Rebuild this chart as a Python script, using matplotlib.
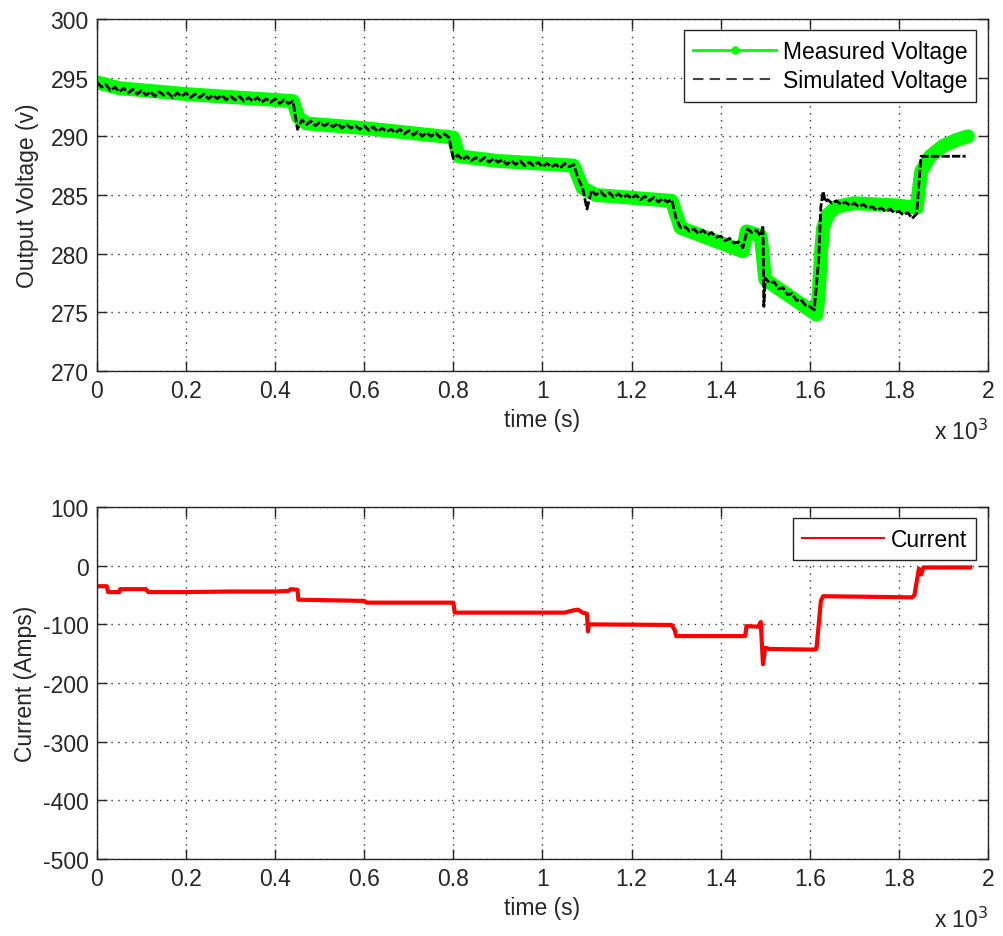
import numpy as np
import matplotlib
matplotlib.use("Agg")
import matplotlib.pyplot as plt
from matplotlib.lines import Line2D

plt.rcParams['font.family'] = ['Liberation Sans', 'DejaVu Sans']
plt.rcParams['font.size'] = 16.5
plt.rcParams['axes.unicode_minus'] = False

# time in units of 10^3 s
meas_t = [0.00, 0.05, 0.20, 0.44, 0.452, 0.47, 0.60, 0.80, 0.812, 0.90, 1.07,
          1.09, 1.12, 1.29, 1.31, 1.45, 1.458, 1.49, 1.50, 1.615, 1.62, 1.625,
          1.63, 1.64, 1.66, 1.70, 1.80, 1.84, 1.845, 1.85, 1.87, 1.90, 1.93, 1.955]
meas_v = [294.6, 294.1, 293.6, 293.0, 291.6, 291.1, 290.7, 289.9, 288.3, 287.9, 287.5,
          285.6, 285.0, 284.5, 282.2, 280.2, 281.9, 281.5, 277.8, 274.8, 276.5, 280.0,
          282.2, 283.3, 284.0, 284.3, 284.1, 283.9, 285.5, 287.0, 288.3, 289.2, 289.7, 290.0]

sim_t = [0.00, 0.01, 0.02, 0.03, 0.04, 0.05, 0.06, 0.07, 0.08, 0.09,
         0.10, 0.11, 0.12, 0.13, 0.14, 0.15, 0.16, 0.17, 0.18, 0.19,
         0.20, 0.21, 0.22, 0.23, 0.24, 0.25, 0.26, 0.27, 0.28, 0.29,
         0.30, 0.31, 0.32, 0.33, 0.34, 0.35, 0.36, 0.37, 0.38, 0.39,
         0.40, 0.41, 0.42, 0.43, 0.44, 0.45, 0.46, 0.47, 0.48, 0.49,
         0.50, 0.51, 0.52, 0.53, 0.54, 0.55, 0.56, 0.57, 0.58, 0.59,
         0.60, 0.61, 0.62, 0.63, 0.64, 0.65, 0.66, 0.67, 0.68, 0.69,
         0.70, 0.71, 0.72, 0.73, 0.74, 0.75, 0.76, 0.77, 0.78, 0.79,
         0.80, 0.81, 0.82, 0.83, 0.84, 0.85, 0.86, 0.87, 0.88, 0.89,
         0.90, 0.91, 0.92, 0.93, 0.94, 0.95, 0.96, 0.97, 0.98, 0.99,
         1.00, 1.01, 1.02, 1.03, 1.04, 1.05, 1.06, 1.07, 1.08, 1.09,
         1.10, 1.11, 1.12, 1.13, 1.14, 1.15, 1.16, 1.17, 1.18, 1.19,
         1.20, 1.21, 1.22, 1.23, 1.24, 1.25, 1.26, 1.27, 1.28, 1.29,
         1.30, 1.31, 1.32, 1.33, 1.34, 1.35, 1.36, 1.37, 1.38, 1.39,
         1.40, 1.41, 1.42, 1.43, 1.44, 1.45, 1.46, 1.47, 1.48, 1.49,
         1.495, 1.497, 1.50, 1.51, 1.52, 1.53, 1.54, 1.55, 1.56, 1.57,
         1.58, 1.59, 1.60, 1.61, 1.62, 1.625, 1.63, 1.635, 1.64, 1.65,
         1.66, 1.67, 1.68, 1.69, 1.70, 1.71, 1.72, 1.73, 1.74, 1.75,
         1.76, 1.77, 1.78, 1.79, 1.80, 1.81, 1.82, 1.83, 1.84, 1.845,
         1.85, 1.95]
sim_v = [294.6, 294.2, 294.4, 293.9, 294.2, 293.8, 294.1, 293.7, 294.0, 293.6,
         293.9, 293.5, 293.8, 293.4, 293.8, 293.5, 293.7, 293.3, 293.7, 293.4,
         293.7, 293.3, 293.6, 293.3, 293.6, 293.2, 293.5, 293.2, 293.5, 293.1,
         293.4, 293.1, 293.4, 293.0, 293.3, 293.0, 293.3, 292.9, 293.2, 292.9,
         293.2, 292.8, 293.1, 292.8, 293.0, 290.6, 291.4, 291.0, 291.3, 290.9,
         291.2, 290.9, 291.1, 290.8, 291.1, 290.7, 291.0, 290.7, 290.9, 290.6,
         290.9, 290.5, 290.8, 290.4, 290.7, 290.4, 290.6, 290.3, 290.6, 290.2,
         290.5, 290.1, 290.4, 290.0, 290.3, 290.0, 290.3, 289.9, 290.2, 289.9,
         288.1, 288.4, 288.0, 288.3, 287.9, 288.2, 287.9, 288.2, 287.8, 288.1,
         287.8, 288.0, 287.6, 287.9, 287.6, 287.9, 287.5, 287.8, 287.5, 287.8,
         287.4, 287.7, 287.4, 287.6, 287.3, 287.7, 287.4, 287.6, 286.4, 285.6,
         283.8, 285.4, 285.0, 285.3, 284.9, 285.2, 284.8, 285.1, 284.8, 285.0,
         284.7, 285.0, 284.6, 284.9, 284.5, 284.8, 284.4, 284.7, 284.4, 284.6,
         283.0, 282.2, 282.3, 281.9, 282.1, 281.7, 282.0, 281.6, 281.8, 281.4,
         281.5, 281.1, 281.3, 280.9, 281.0, 280.5, 282.1, 281.8, 282.0, 281.5,
         282.4, 275.5, 277.9, 277.5, 277.6, 277.0, 277.1, 276.5, 276.6, 276.0,
         276.1, 275.6, 275.5, 275.2, 279.5, 284.0, 285.3, 284.4, 284.6, 284.3,
         284.5, 284.2, 284.4, 284.1, 284.3, 284.0, 284.2, 283.9, 284.0, 283.7,
         283.9, 283.6, 283.8, 283.5, 283.6, 283.3, 283.5, 283.0, 283.4, 286.0,
         288.3, 288.3]

cur_t = [0.00, 0.022, 0.025, 0.05, 0.052, 0.11, 0.115, 0.20, 0.30, 0.40, 0.43,
         0.435, 0.45, 0.452, 0.60, 0.605, 0.80, 0.803, 1.05, 1.07, 1.08, 1.09,
         1.10, 1.102, 1.104, 1.29, 1.297, 1.30, 1.455, 1.458, 1.485, 1.49,
         1.495, 1.50, 1.51, 1.61, 1.615, 1.625, 1.63, 1.83, 1.835, 1.845,
         1.85, 1.855, 1.96]
cur_i = [-35, -35, -45, -45, -40, -40, -45, -45, -44, -44, -43,
         -40, -41, -58, -60, -63, -63, -80, -80, -76, -75, -80,
         -82, -112, -100, -101, -110, -120, -120, -103, -104, -96,
         -168, -140, -142, -143, -142, -60, -52, -54, -50, -5,
         -15, -3, -3]

xticks = [0, 0.2, 0.4, 0.6, 0.8, 1, 1.2, 1.4, 1.6, 1.8, 2]
xticklabels = ['0', '0.2', '0.4', '0.6', '0.8', '1', '1.2', '1.4', '1.6', '1.8', '2']
ink = '#262626'


def style_axes(ax):
    ax.set_xlim(0, 2)
    ax.set_xticks(xticks)
    ax.set_xticklabels(xticklabels)
    ax.tick_params(direction='in', top=True, right=True, length=7, width=1,
                   colors=ink, labelsize=16.5, pad=6)
    ax.grid(True, color='#333333', linestyle=(0, (1, 4)), linewidth=1)
    for s in ax.spines.values():
        s.set_linewidth(1)
        s.set_color(ink)
    ax.set_xlabel('time (s)', color=ink, labelpad=4)
    ax.text(1.0, -0.135, r'x 10$^{3}$', transform=ax.transAxes,
            ha='right', va='top', color=ink, fontsize=16.5)


fig = plt.figure(figsize=(10.04, 9.37), dpi=100)
ax1 = fig.add_axes([0.0966, 0.603, 0.8874, 0.3757])
ax2 = fig.add_axes([0.0966, 0.0822, 0.8874, 0.3756])

ax1.plot(meas_t, meas_v, color=(0, 1, 0), lw=10, solid_joinstyle='round',
         solid_capstyle='round')
ax1.plot(sim_t, sim_v, color='black', lw=2, linestyle='--', dashes=(3, 0.8))
ax1.set_ylim(270, 300)
ax1.set_yticks([270, 275, 280, 285, 290, 295, 300])
ax1.set_ylabel('Output Voltage (v)', color=ink, labelpad=8)
style_axes(ax1)
handles = [Line2D([], [], color=(0, 1, 0), lw=2, marker='.', markersize=10),
           Line2D([], [], color='#444444', lw=1.5, linestyle='--', dashes=(5, 3))]
leg1 = ax1.legend(handles, ['Measured Voltage', 'Simulated Voltage'],
                  loc='upper right', fancybox=False, framealpha=1,
                  edgecolor=ink, handlelength=3.6, borderaxespad=0.5,
                  labelspacing=0.3, handletextpad=0.3, borderpad=0.4)
leg1.get_frame().set_linewidth(1)

ax2.plot(cur_t, cur_i, color='red', lw=3, label='Current')
ax2.set_ylim(-500, 100)
ax2.set_yticks([-500, -400, -300, -200, -100, 0, 100])
ax2.set_ylabel('Current (Amps)', color=ink, labelpad=4)
style_axes(ax2)
handles2 = [Line2D([], [], color='red', lw=1.5)]
leg2 = ax2.legend(handles2, ['Current'], loc='upper right', fancybox=False,
                  framealpha=1, edgecolor=ink, handlelength=3.6,
                  borderaxespad=0.5, handletextpad=0.3, borderpad=0.4)
leg2.get_frame().set_linewidth(1)

fig.savefig('out.png', dpi=100)
